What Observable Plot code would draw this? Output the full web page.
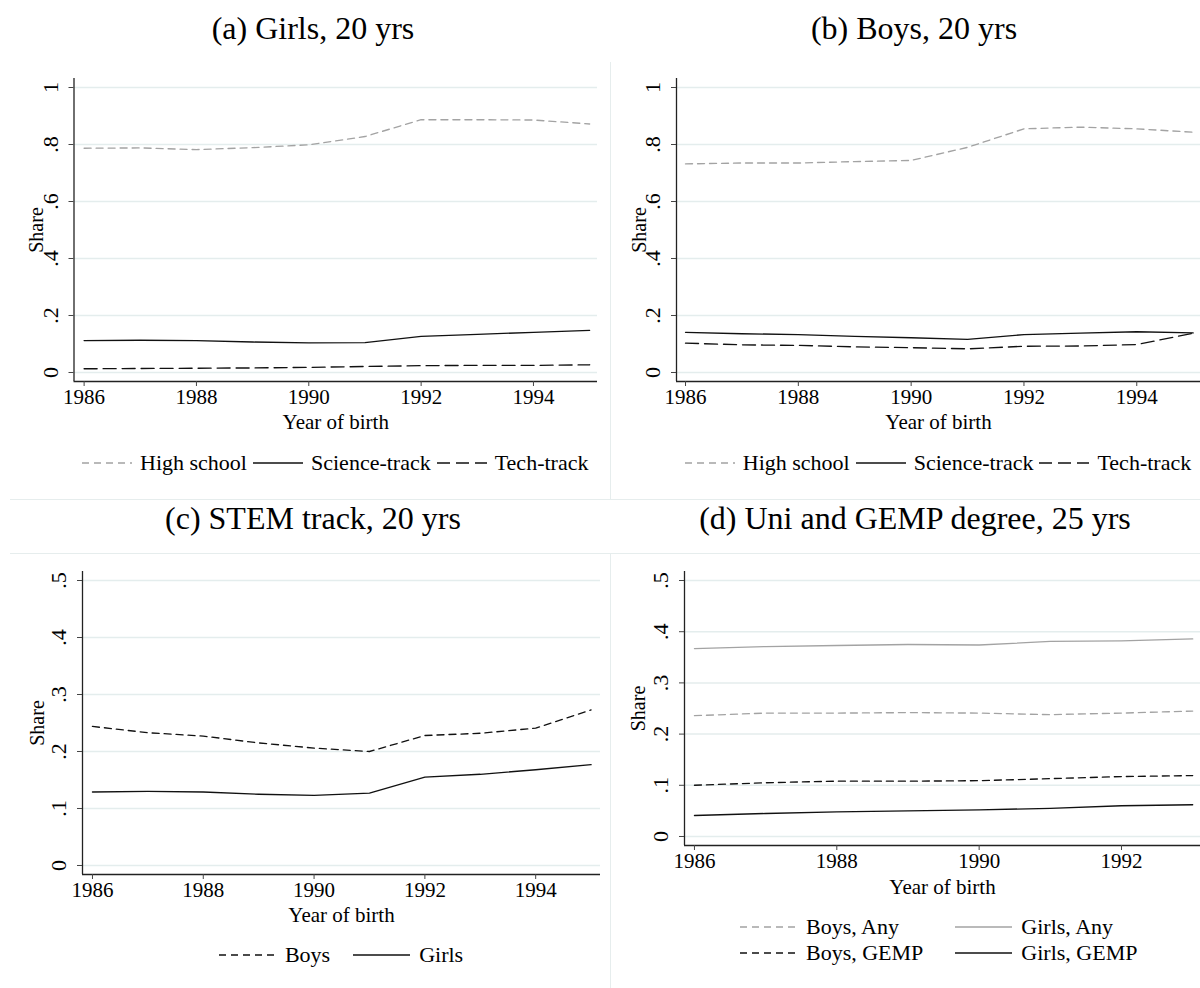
<!DOCTYPE html>
<html>
<head>
<meta charset="utf-8">
<script src="https://cdn.jsdelivr.net/npm/d3@7"></script>
<script src="https://cdn.jsdelivr.net/npm/@observablehq/plot@0.6"></script>
<style>
  html, body { margin: 0; padding: 0; background: #fff; }
  #root { position: relative; width: 1200px; height: 988px; overflow: hidden; font-family: "Liberation Serif", "Times New Roman", serif; color: #000; }
  .title { position: absolute; font-family: "Liberation Serif", serif; font-size: 32px; white-space: nowrap; transform: translate(-50%, -50%); line-height: 1; }
  .legend { position: absolute; display: flex; justify-content: center; align-items: center; font-family: "Liberation Serif", serif; font-size: 22px; line-height: 22px; white-space: nowrap; }
  .legend .item { display: inline-flex; align-items: center; }
  .legend svg, .legend-grid svg { display: block; }
  .legend-grid { position: absolute; display: grid; grid-template-columns: auto auto; column-gap: 32px; row-gap: 4px; font-family: "Liberation Serif", serif; font-size: 22px; line-height: 22px; white-space: nowrap; }
  .legend-grid .item { display: inline-flex; align-items: center; }
  .sep { position: absolute; background: #e6eded; }
  svg text { font-family: "Liberation Serif", serif; }
</style>
</head>
<body>
<div id="root"></div>
<script>
// ---------------- data ----------------
const years = [1986, 1987, 1988, 1989, 1990, 1991, 1992, 1993, 1994, 1995];
const years25 = [1986, 1987, 1988, 1989, 1990, 1991, 1992, 1993];

// (a) Girls, 20 yrs
const girlsHighSchool = [0.787, 0.788, 0.782, 0.789, 0.799, 0.828, 0.887, 0.887, 0.886, 0.872];
const girlsScience    = [0.112, 0.113, 0.112, 0.107, 0.104, 0.105, 0.127, 0.134, 0.141, 0.148];
const girlsTech       = [0.013, 0.014, 0.015, 0.016, 0.018, 0.021, 0.024, 0.025, 0.025, 0.027];

// (b) Boys, 20 yrs
const boysHighSchool = [0.732, 0.735, 0.735, 0.740, 0.744, 0.790, 0.855, 0.861, 0.855, 0.843];
const boysScience    = [0.141, 0.136, 0.133, 0.127, 0.122, 0.116, 0.133, 0.138, 0.143, 0.139];
const boysTech       = [0.103, 0.097, 0.095, 0.090, 0.087, 0.083, 0.092, 0.093, 0.098, 0.138];

// (c) STEM track, 20 yrs
const stemBoys  = [0.244, 0.233, 0.227, 0.215, 0.206, 0.200, 0.228, 0.232, 0.241, 0.273];
const stemGirls = [0.129, 0.130, 0.129, 0.125, 0.123, 0.127, 0.155, 0.160, 0.168, 0.177];

// (d) Uni and GEMP degree, 25 yrs
const uniBoysAny   = [0.236, 0.241, 0.241, 0.242, 0.241, 0.238, 0.241, 0.245];
const uniGirlsAny  = [0.367, 0.371, 0.373, 0.375, 0.374, 0.381, 0.382, 0.386];
const uniBoysGEMP  = [0.100, 0.105, 0.108, 0.108, 0.109, 0.113, 0.117, 0.119];
const uniGirlsGEMP = [0.041, 0.045, 0.048, 0.050, 0.052, 0.055, 0.060, 0.062];

// tick labels
const xTicks10 = [1986, 1988, 1990, 1992, 1994];
const xTicks8  = [1986, 1988, 1990, 1992];
const yTicks1  = [0, 0.2, 0.4, 0.6, 0.8, 1];
const yLabels1 = ["0", ".2", ".4", ".6", ".8", "1"];
const yTicks5  = [0, 0.1, 0.2, 0.3, 0.4, 0.5];
const yLabels5 = ["0", ".1", ".2", ".3", ".4", ".5"];

const titles = ["(a) Girls, 20 yrs", "(b) Boys, 20 yrs", "(c) STEM track, 20 yrs", "(d) Uni and GEMP degree, 25 yrs"];

// ---------------- styles ----------------
const GRAY = "#a3a3a3";
const BLACK = "#111";
const GRID = "#e4eded";
const FONT = "Liberation Serif";

const root = document.getElementById("root");

function panel(cfg) {
  const marks = [];
  marks.push(Plot.gridY(cfg.yTicks, {stroke: GRID, strokeOpacity: 1, strokeWidth: 1.5}));
  for (const s of cfg.series) {
    const data = s.years.map((yr, i) => ({year: yr, value: s.values[i]}));
    marks.push(Plot.line(data, {x: "year", y: "value", stroke: s.stroke, strokeWidth: s.width || 1.35,
      strokeDasharray: s.dash || null, curve: "linear"}));
  }
  marks.push(Plot.ruleX([cfg.xDomain[0]], {stroke: "#222", strokeWidth: 1.3}));
  marks.push(Plot.ruleY([cfg.yDomain[0]], {stroke: "#222", strokeWidth: 1.3}));
  marks.push(Plot.axisY({ticks: cfg.yTicks, tickSize: 5, tickFormat: () => "", label: null, stroke: "#444"}));
  marks.push(Plot.text(cfg.yTicks, {frameAnchor: "left", y: d => d, text: (d, i) => cfg.yLabels[i],
    rotate: -90, dx: -23.5, fontSize: 22, fontFamily: FONT, textAnchor: "middle", lineAnchor: "middle", fill: "#000"}));
  marks.push(Plot.axisX({ticks: cfg.xTicks, tickSize: 5, tickPadding: 3, fontSize: 21, fontFamily: FONT, label: null,
    tickFormat: d => String(d), stroke: "#444", fill: "#000"}));
  marks.push(Plot.text(["Share"], {frameAnchor: "left", dx: cfg.shareDx, rotate: -90, fontSize: 20, fontFamily: FONT,
    textAnchor: "middle", lineAnchor: "middle", fill: "#000"}));
  marks.push(Plot.text(["Year of birth"], {frameAnchor: "bottom", dy: cfg.xLabelDy, fontSize: 21, fontFamily: FONT,
    textAnchor: "middle", lineAnchor: "middle", fill: "#000"}));

  const svg = Plot.plot({
    width: cfg.width,
    height: cfg.height,
    marginLeft: cfg.margin[3],
    marginTop: cfg.margin[0],
    marginRight: cfg.margin[1],
    marginBottom: cfg.margin[2],
    x: {domain: cfg.xDomain, axis: null, label: null},
    y: {domain: cfg.yDomain, axis: null, label: null},
    style: `font-family: 'Liberation Serif', serif; background: transparent; overflow: visible; color: #000;`,
    marks
  });
  svg.style.position = "absolute";
  svg.style.left = cfg.left + "px";
  svg.style.top = cfg.top + "px";
  root.appendChild(svg);
}

function keySvg(w, stroke, dash, width) {
  return `<svg width="${w}" height="10"><line x1="0" x2="${w}" y1="5" y2="5" stroke="${stroke}" stroke-width="${width || 1.35}" ${dash ? `stroke-dasharray="${dash}"` : ""}/></svg>`;
}

function legendRow(left, width, centerY, items, keyW, keyGap, itemGap) {
  const div = document.createElement("div");
  div.className = "legend";
  div.style.left = left + "px";
  div.style.width = width + "px";
  div.style.top = (centerY - 11) + "px";
  div.style.gap = itemGap + "px";
  div.innerHTML = items.map(it =>
    `<span class="item">${keySvg(keyW, it.stroke, it.dash)}<span style="margin-left:${keyGap}px">${it.label}</span></span>`
  ).join("");
  root.appendChild(div);
}

function title(text, cx, cy) {
  const d = document.createElement("div");
  d.className = "title";
  d.style.left = cx + "px";
  d.style.top = cy + "px";
  d.textContent = text;
  root.appendChild(d);
}

function sep(x, y, w, h) {
  const d = document.createElement("div");
  d.className = "sep";
  Object.assign(d.style, {left: x + "px", top: y + "px", width: w + "px", height: h + "px"});
  root.appendChild(d);
}

// separators between sub-graphs
sep(610, 62, 1, 438);
sep(10, 499, 1190, 1);
sep(10, 553, 1190, 1);
sep(610, 553, 1, 435);

// titles
title(titles[0], 313, 28);
title(titles[1], 914, 28);
title(titles[2], 313, 518);
title(titles[3], 915, 518);

const HS_DASH = "7,5", TECH_DASH = "13,6", BOYS_DASH = "7,5";

// (a)
panel({
  left: 0, top: 60, width: 611, height: 380, margin: [18, 14, 59, 73.5],
  xDomain: [1985.82, 1995.14], yDomain: [-0.0316, 1.0316],
  xTicks: xTicks10, yTicks: yTicks1, yLabels: yLabels1, shareDx: -37, xLabelDy: 41,
  series: [
    {years, values: girlsHighSchool, stroke: GRAY, dash: HS_DASH},
    {years, values: girlsScience, stroke: BLACK},
    {years, values: girlsTech, stroke: BLACK, dash: TECH_DASH}
  ]
});
// (b)
panel({
  left: 611, top: 60, width: 589, height: 380, margin: [18, 0, 59, 65],
  xDomain: [1985.84, 1995.13], yDomain: [-0.0316, 1.0316],
  xTicks: xTicks10, yTicks: yTicks1, yLabels: yLabels1, shareDx: -37, xLabelDy: 41,
  series: [
    {years, values: boysHighSchool, stroke: GRAY, dash: HS_DASH},
    {years, values: boysScience, stroke: BLACK},
    {years, values: boysTech, stroke: BLACK, dash: TECH_DASH}
  ]
});
// (c)
panel({
  left: 0, top: 553, width: 611, height: 382, margin: [18, 11, 61, 82],
  xDomain: [1985.82, 1995.17], yDomain: [-0.0158, 0.5158],
  xTicks: xTicks10, yTicks: yTicks5, yLabels: yLabels5, shareDx: -45, xLabelDy: 41,
  series: [
    {years, values: stemBoys, stroke: BLACK, dash: BOYS_DASH},
    {years, values: stemGirls, stroke: BLACK}
  ]
});
// (d)
panel({
  left: 611, top: 553, width: 589, height: 357, margin: [18, 0, 65, 73],
  xDomain: [1985.86, 1993.11], yDomain: [-0.0176, 0.5176],
  xTicks: xTicks8, yTicks: yTicks5, yLabels: yLabels5, shareDx: -46, xLabelDy: 42,
  series: [
    {years: years25, values: uniBoysAny, stroke: GRAY, dash: BOYS_DASH},
    {years: years25, values: uniGirlsAny, stroke: GRAY},
    {years: years25, values: uniBoysGEMP, stroke: BLACK, dash: BOYS_DASH},
    {years: years25, values: uniGirlsGEMP, stroke: BLACK}
  ]
});

// legends
const legendA = [
  {label: "High school", stroke: GRAY, dash: HS_DASH},
  {label: "Science-track", stroke: BLACK},
  {label: "Tech-track", stroke: BLACK, dash: TECH_DASH}
];
legendRow(73.5, 523.5, 463, legendA, 50, 8, 6);
legendRow(676, 524, 463, legendA, 50, 8, 6);
legendRow(82, 518, 955, [
  {label: "Boys", stroke: BLACK, dash: BOYS_DASH},
  {label: "Girls", stroke: BLACK}
], 57, 9, 23);

const dl = document.createElement("div");
dl.className = "legend-grid";
dl.style.left = "740px";
dl.style.top = (927 - 11) + "px";
const itemsD = [
  {label: "Boys, Any", stroke: GRAY, dash: BOYS_DASH},
  {label: "Girls, Any", stroke: GRAY},
  {label: "Boys, GEMP", stroke: BLACK, dash: BOYS_DASH},
  {label: "Girls, GEMP", stroke: BLACK}
];
dl.innerHTML = itemsD.map(it =>
  `<span class="item">${keySvg(57, it.stroke, it.dash)}<span style="margin-left:9px">${it.label}</span></span>`
).join("");
root.appendChild(dl);
</script>
</body>
</html>
